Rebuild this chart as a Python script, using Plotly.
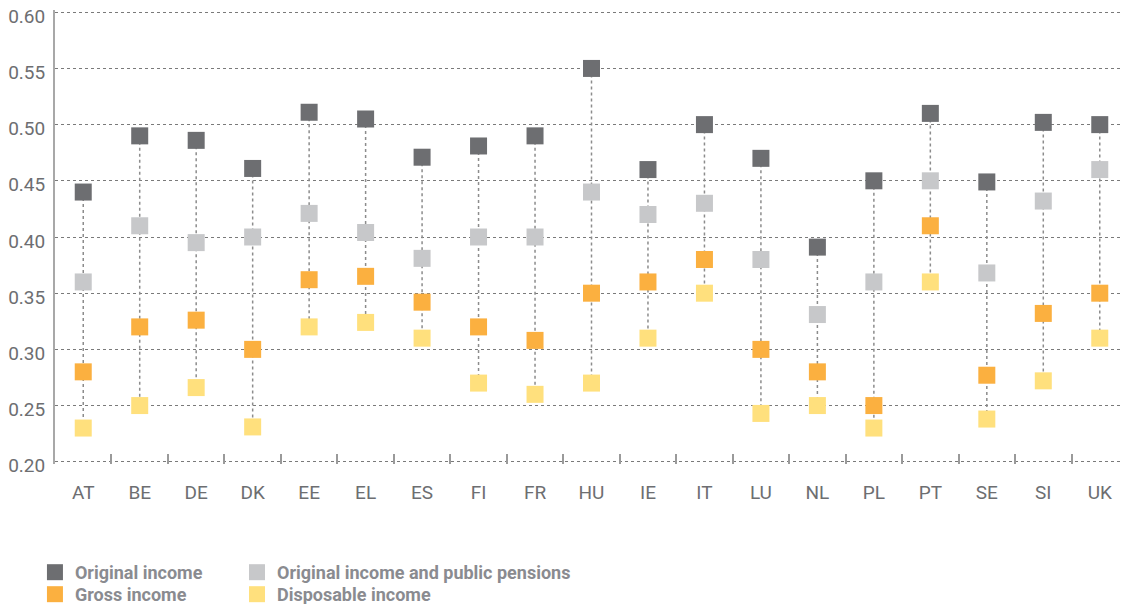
import plotly.graph_objects as go

countries = ["AT", "BE", "DE", "DK", "EE", "EL", "ES", "FI", "FR", "HU",
             "IE", "IT", "LU", "NL", "PL", "PT", "SE", "SI", "UK"]
original_income = [0.44, 0.49, 0.486, 0.461, 0.511, 0.505, 0.471, 0.481, 0.49, 0.55,
                   0.46, 0.50, 0.47, 0.391, 0.45, 0.51, 0.449, 0.502, 0.50]
orig_and_pensions = [0.36, 0.41, 0.395, 0.40, 0.421, 0.404, 0.381, 0.40, 0.40, 0.44,
                     0.42, 0.43, 0.38, 0.331, 0.36, 0.45, 0.368, 0.432, 0.46]
gross_income = [0.28, 0.32, 0.326, 0.30, 0.362, 0.365, 0.342, 0.32, 0.308, 0.35,
                0.36, 0.38, 0.30, 0.28, 0.25, 0.41, 0.277, 0.332, 0.35]
disposable_income = [0.23, 0.25, 0.266, 0.231, 0.32, 0.324, 0.31, 0.27, 0.26, 0.27,
                     0.31, 0.35, 0.243, 0.25, 0.23, 0.36, 0.238, 0.272, 0.31]
y_ticks = [0.20, 0.25, 0.30, 0.35, 0.40, 0.45, 0.50, 0.55, 0.60]

# (name, values, colour, legend id, legend column x, legend row y) - container fractions
series = [
    ("Original income", original_income, "#6d6e71", "legend", 0.024, 0.0839),
    ("Original income and public pensions", orig_and_pensions, "#c7c8ca", "legend2", 0.2039, 0.0839),
    ("Gross income", gross_income, "#fbb040", "legend3", 0.024, 0.0470),
    ("Disposable income", disposable_income, "#ffe07d", "legend4", 0.2039, 0.0470),
]

# vertical connector lines from min to max per country
lx, ly = [], []
for i, c in enumerate(countries):
    vals = [s[1][i] for s in series]
    lx += [c, c, None]
    ly += [max(vals), min(vals), None]

fig = go.Figure()
fig.add_trace(go.Scatter(x=lx, y=ly, mode="lines", showlegend=False, hoverinfo="skip",
                         line=dict(color="#8c8c8c", width=1.5, dash="dot")))
for name, vals, col, lg, _, _ in series:
    fig.add_trace(go.Scatter(x=countries, y=vals, mode="markers", name=name, legend=lg,
                             marker=dict(symbol="square", size=17, color=col, line=dict(width=0))))

legend_font = dict(family="Roboto", size=18, color="#8a8b90", weight="bold")
legends = {}
for _, _, _, lg, lxp, lyp in series:
    legends[lg] = dict(orientation="v", xref="container", yref="container",
                       xanchor="left", yanchor="top", x=lxp, y=lyp,
                       font=legend_font, itemwidth=30, tracegroupgap=0,
                       bgcolor="rgba(0,0,0,0)", borderwidth=0)

# the page body has an 8px margin, so the figure is sized to end at the window edge
fig.update_layout(
    width=1123, height=596,
    margin=dict(l=47, r=3, t=2, b=140, autoexpand=False),
    plot_bgcolor="white", paper_bgcolor="white",
    font=dict(family="Roboto", color="#6d6e71"),
    xaxis=dict(type="category", categoryorder="array", categoryarray=countries,
               range=[-0.5, len(countries) - 0.5], showgrid=False, showline=False,
               zeroline=False, ticks="inside", tickson="boundaries", ticklen=10,
               tickwidth=1.5, tickcolor="#9a9a9a", ticklabelstandoff=15,
               tickfont=dict(family="Roboto", size=19, color="#6d6e71")),
    yaxis=dict(range=[0.198, 0.602], tickvals=y_ticks, tickformat=".2f",
               showgrid=True, gridcolor="#7a7a7a", gridwidth=1, griddash="dot",
               showline=True, linecolor="#a8a8a8", linewidth=2, zeroline=False,
               ticks="", ticklabelstandoff=4, ticklabeloverflow="allow",
               ticklabelshift=4,
               tickfont=dict(family="Roboto", size=19, color="#6d6e71")),
    **legends,
)
fig.write_html("out.html")
